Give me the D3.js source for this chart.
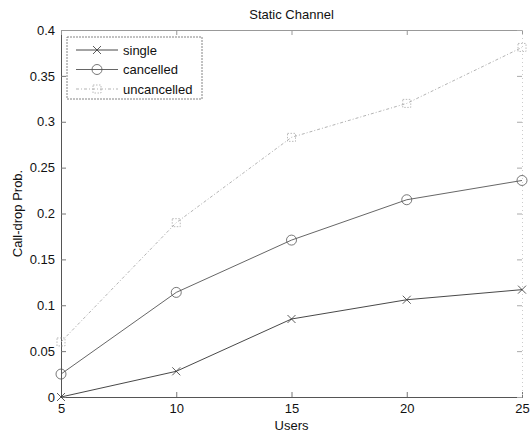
<!DOCTYPE html>
<html>
<head>
<meta charset="utf-8">
<title>Static Channel</title>
<style>
  body { margin: 0; background: #fff; }
  svg text { font-family: "Liberation Sans", Arial, sans-serif; fill: #111; }
</style>
</head>
<body>
<div id="chart"></div>
<script src="https://d3js.org/d3.v7.min.js"></script>
<script>
const users = [5, 10, 15, 20, 25];
const single = [0, 0.028, 0.085, 0.106, 0.117];
const cancelled = [0.025, 0.114, 0.171, 0.215, 0.236];
const uncancelled = [0.06, 0.19, 0.283, 0.32, 0.381];
const yTicks = [0, 0.05, 0.1, 0.15, 0.2, 0.25, 0.3, 0.35, 0.4];
const yTickLabels = ["0", "0.05", "0.1", "0.15", "0.2", "0.25", "0.3", "0.35", "0.4"];

const width = 530, height = 434;
const margin = {left: 61, right: 8, top: 30, bottom: 37};

const svg = d3.select("#chart").append("svg")
    .attr("width", width)
    .attr("height", height);

const x = d3.scaleLinear().domain([5, 25]).range([margin.left, width - margin.right]);
const y = d3.scaleLinear().domain([0, 0.4]).range([height - margin.bottom, margin.top]);

const series = [
    {name: "single", values: single, color: "#333", dash: null, marker: "x", width: 0.9},
    {name: "cancelled", values: cancelled, color: "#555", dash: null, marker: "o", width: 0.9},
    {name: "uncancelled", values: uncancelled, color: "#aaa", dash: "3,2,1,2", marker: "s", width: 0.9}
];

// axes, MATLAB style with inward ticks
const xAxis = d3.axisBottom(x).tickValues(users).tickSize(-5).tickPadding(7).tickFormat(d3.format("d"));
const yAxis = d3.axisLeft(y).tickValues(yTicks).tickSize(-5).tickPadding(6)
    .tickFormat((d, i) => yTickLabels[i]);

const gx = svg.append("g").attr("transform", `translate(0,${y(0)})`).call(xAxis);
const gy = svg.append("g").attr("transform", `translate(${x(5)},0)`).call(yAxis);
[gx, gy].forEach(g => {
    g.selectAll("path").attr("stroke", "#555");
    g.selectAll("line").attr("stroke", "#777");
    g.selectAll("text").attr("font-size", 13).attr("fill", "#111");
});

// top and right box with ticks
svg.append("g").attr("transform", `translate(0,${y(0.4)})`)
    .call(d3.axisTop(x).tickValues(users).tickSize(-5).tickFormat(""))
    .call(g => g.selectAll("path").attr("stroke", "#999"))
    .call(g => g.selectAll("line").attr("stroke", "#999"));
svg.append("g").attr("transform", `translate(${x(25)},0)`)
    .call(d3.axisRight(y).tickValues(yTicks).tickSize(-5).tickFormat(""))
    .call(g => g.selectAll("path").attr("stroke", "#ccc").attr("stroke-dasharray", "1,3"))
    .call(g => g.selectAll("line").attr("stroke", "#aaa"));

const line = d3.line().x((d, i) => x(users[i])).y(d => y(d));

function drawMarker(g, type, cx, cy, color) {
    if (type === "x") {
        g.append("path")
            .attr("d", `M${cx - 4},${cy - 4}L${cx + 4},${cy + 4}M${cx - 4},${cy + 4}L${cx + 4},${cy - 4}`)
            .attr("stroke", color).attr("stroke-width", 0.8).attr("fill", "none");
    } else if (type === "o") {
        g.append("circle").attr("cx", cx).attr("cy", cy).attr("r", 5)
            .attr("stroke", color).attr("stroke-width", 0.8).attr("fill", "none");
    } else {
        g.append("rect").attr("x", cx - 4).attr("y", cy - 4).attr("width", 8).attr("height", 8)
            .attr("stroke", color).attr("stroke-width", 0.8).attr("fill", "none")
            .attr("stroke-dasharray", "1.5,1.5");
    }
}

series.forEach(s => {
    const g = svg.append("g");
    g.append("path")
        .datum(s.values)
        .attr("d", line)
        .attr("fill", "none")
        .attr("stroke", s.color)
        .attr("stroke-width", s.width)
        .attr("stroke-dasharray", s.dash);
    s.values.forEach((v, i) => drawMarker(g, s.marker, x(users[i]), y(v), s.color));
});

// title and labels
svg.append("text").attr("x", (x(5) + x(25)) / 2).attr("y", 19)
    .attr("text-anchor", "middle").attr("font-size", 13).text("Static Channel");
svg.append("text").attr("x", (x(5) + x(25)) / 2).attr("y", 430)
    .attr("text-anchor", "middle").attr("font-size", 13).text("Users");
svg.append("text")
    .attr("transform", `translate(22,${(y(0) + y(0.4)) / 2}) rotate(-90)`)
    .attr("text-anchor", "middle").attr("font-size", 13).text("Call-drop Prob.");

// legend
const legend = svg.append("g").attr("transform", "translate(67,37)");
legend.append("rect").attr("width", 135).attr("height", 62)
    .attr("fill", "#fff").attr("stroke", "#666").attr("stroke-width", 0.8)
    .attr("stroke-dasharray", "2,1");
series.forEach((s, i) => {
    const ly = 13 + i * 19.5;
    legend.append("line").attr("x1", 9).attr("x2", 51).attr("y1", ly).attr("y2", ly)
        .attr("stroke", s.color).attr("stroke-width", s.width).attr("stroke-dasharray", s.dash);
    drawMarker(legend, s.marker, 30, ly, s.color);
    legend.append("text").attr("x", 56).attr("y", ly + 4.5).attr("font-size", 13).text(s.name);
});
</script>
</body>
</html>
